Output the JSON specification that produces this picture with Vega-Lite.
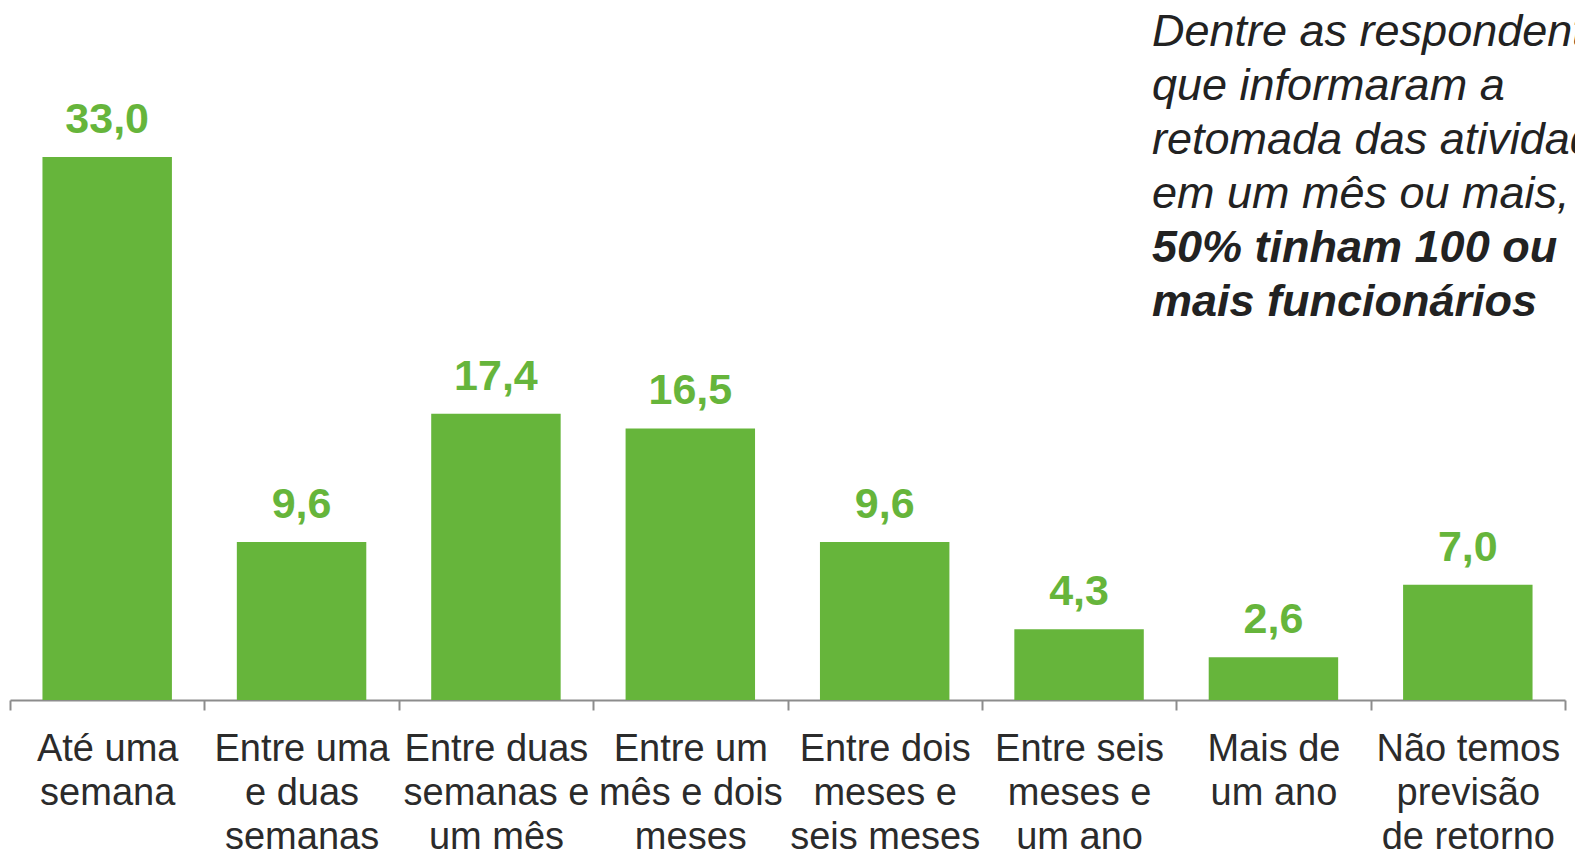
{
  "$schema": "https://vega.github.io/schema/vega-lite/v6.json",
  "autosize": {"type": "none"},
  "padding": {"left": 10, "top": 0, "right": 10, "bottom": 159},
  "width": 1555,
  "height": 700,
  "background": "white",
  "config": {
    "view": {"stroke": null},
    "locale": {"number": {"decimal": ",", "thousands": ".", "grouping": [3], "currency": ["R$", ""]}},
    "font": "Liberation Sans"
  },
  "title": {
    "text": ["Dentre as respondentes", "que informaram a", "retomada das atividades", "em um mês ou mais,"],
    "subtitle": ["50% tinham 100 ou", "mais funcionários"],
    "anchor": "start",
    "frame": "group",
    "dx": 1142,
    "dy": 329,
    "font": "Liberation Sans",
    "fontSize": 45,
    "fontStyle": "italic",
    "fontWeight": "normal",
    "color": "#222222",
    "lineHeight": 54,
    "subtitleFont": "Liberation Sans",
    "subtitleFontSize": 45,
    "subtitleFontStyle": "italic",
    "subtitleFontWeight": "bold",
    "subtitleColor": "#222222",
    "subtitleLineHeight": 54,
    "subtitlePadding": 9
  },
  "data": {
    "values": [
      {"categoria": "Até uma\nsemana", "valor": 33.0},
      {"categoria": "Entre uma\ne duas\nsemanas", "valor": 9.6},
      {"categoria": "Entre duas\nsemanas e\num mês", "valor": 17.4},
      {"categoria": "Entre um\nmês e dois\nmeses", "valor": 16.5},
      {"categoria": "Entre dois\nmeses e\nseis meses", "valor": 9.6},
      {"categoria": "Entre seis\nmeses e\num ano", "valor": 4.3},
      {"categoria": "Mais de\num ano", "valor": 2.6},
      {"categoria": "Não temos\nprevisão\nde retorno", "valor": 7.0}
    ]
  },
  "encoding": {
    "x": {
      "field": "categoria",
      "type": "nominal",
      "sort": null,
      "scale": {"paddingInner": 0, "paddingOuter": 0},
      "axis": {
        "title": null,
        "labelAngle": 0,
        "labelExpr": "split(datum.label, '\\n')",
        "labelFont": "Liberation Sans",
        "labelFontSize": 38,
        "labelColor": "#2b2b2b",
        "labelLineHeight": 44,
        "labelPadding": 20,
        "labelLimit": 400,
        "labelBaseline": "top",
        "domainColor": "#8c8c8c",
        "domainWidth": 2,
        "tickColor": "#8c8c8c",
        "tickWidth": 2,
        "tickSize": 10,
        "tickBand": "extent",
        "grid": false
      }
    },
    "y": {
      "field": "valor",
      "type": "quantitative",
      "scale": {"domain": [0, 42.54], "nice": false, "zero": true},
      "axis": null
    }
  },
  "layer": [
    {"mark": {"type": "bar", "color": "#66b53b", "width": {"band": 0.666}}},
    {
      "mark": {"type": "text", "color": "#66b53b", "font": "Liberation Sans", "fontSize": 43, "fontWeight": "bold", "baseline": "alphabetic", "dy": -24},
      "encoding": {"text": {"field": "valor", "type": "quantitative", "format": ".1f"}}
    }
  ]
}
